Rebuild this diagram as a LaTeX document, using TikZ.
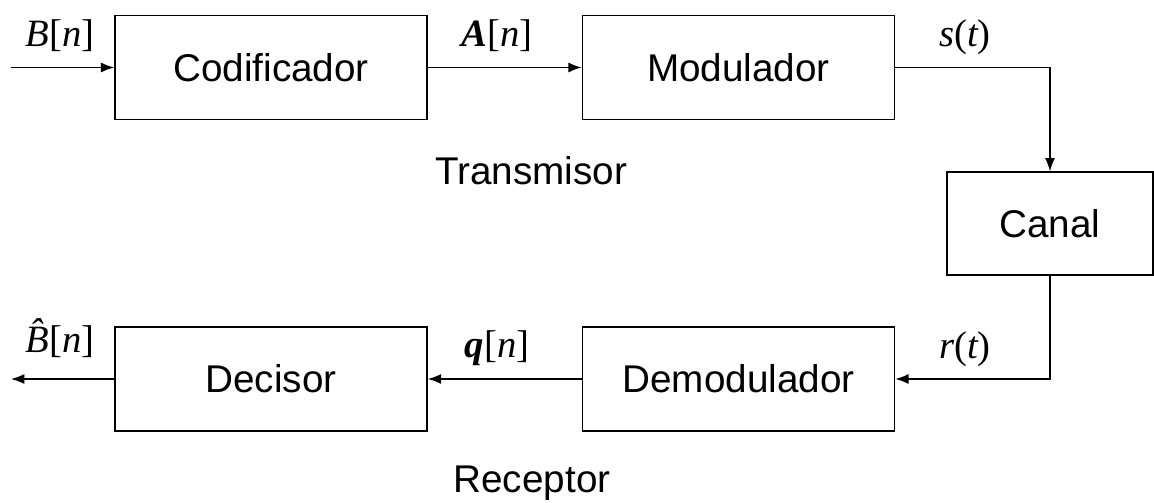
\documentclass[tikz,border=0pt]{standalone}
\usepackage{fontspec}
\setmainfont{Liberation Sans}
\newfontfamily\tms{Liberation Serif}
\usetikzlibrary{arrows.meta}
\newcommand{\iv}[1]{{\tms\itshape #1}}
\newcommand{\bv}[1]{{\tms\bfseries\itshape #1}}
\newcommand{\rv}[1]{{\tms #1}}
\begin{document}
\begin{tikzpicture}[x=0.75pt,y=-0.75pt,
  font=\fontsize{29pt}{34pt}\selectfont,
  blk/.style={draw,line width=1.1pt,inner sep=0pt,minimum width=234pt,minimum height=78pt},
  arr/.style={line width=1.1pt,-{Latex[length=10pt,width=7.5pt]}},
  lab/.style={anchor=base,inner sep=0pt}]
\useasboundingbox (0,0) rectangle (1154,503);
\node[blk] (cod) at (271,67.5) {Codificador};
\node[blk] (mod) at (738.5,67.5) {Modulador};
\node[blk,minimum width=154.5pt,minimum height=77pt] (can) at (1050,223.5) {Canal};
\node[blk] (dem) at (738.5,379) {Demodulador};
\node[blk] (dec) at (271,379) {Decisor};
\coordinate (in) at (11,67.5);
\coordinate (out) at (11,379);
\draw[arr] (in) -- (cod.west);
\draw[arr] (cod.east) -- (mod.west);
\draw[arr] (mod.east) -| (can.north);
\draw[arr] (can.south) |- (dem.east);
\draw[arr] (dem.west) -- (dec.east);
\draw[arr] (dec.west) -- (out);
\node[lab] (lb) at (60,47) {\iv{B}\rv{[}\iv{n}\rv{]}};
\node[lab] (la) at (497,47) {\bv{A}\rv{[}\iv{n}\rv{]}};
\node[lab] (ls) at (965,47) {\iv{s}\rv{(}\iv{t}\rv{)}};
\node[lab] (lr) at (965,358) {\iv{r}\rv{(}\iv{t}\rv{)}};
\node[lab] (lq) at (497,357) {\bv{q}\rv{[}\iv{n}\rv{]}};
\node[lab] (lbh) at (60,352) {\iv{\^{B}}\rv{[}\iv{n}\rv{]}};
\node[lab] (tx) at (531,185) {Transmisor};
\node[lab] (rx) at (532,492) {Receptor};
\end{tikzpicture}
\end{document}
